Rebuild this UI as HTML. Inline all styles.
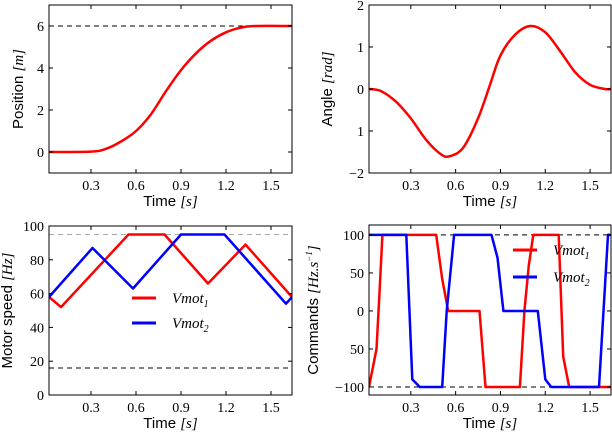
<!DOCTYPE html>
<html><head><meta charset="utf-8"><style>
body{margin:0;background:#fff}
svg{display:block;font-family:"Liberation Serif",serif}
.tk{font-size:14px;fill:#000}
.lab{font-family:"Liberation Sans",sans-serif;font-size:15px}
.it{font-family:"Liberation Serif",serif;font-style:italic}
</style></head><body>
<svg id="fig" width="612" height="432" xmlns="http://www.w3.org/2000/svg"></svg>
<script>
const timeTicks=[0.3,0.6,0.9,1.2,1.5];
const posT=[0.02,0.3,0.4,0.5,0.6,0.7,0.8,0.9,1.0,1.1,1.2,1.3,1.4,1.64];
const posV=[0,0.02,0.15,0.5,1.0,1.8,2.9,3.9,4.7,5.3,5.7,5.92,6.0,6.0];
const angT=[0.02,0.1,0.2,0.3,0.4,0.5,0.56,0.65,0.75,0.83,0.9,1.0,1.1,1.2,1.3,1.4,1.5,1.6,1.64];
const angV=[0,-0.05,-0.3,-0.7,-1.2,-1.55,-1.6,-1.4,-0.7,0.1,0.8,1.3,1.5,1.35,0.9,0.4,0.1,0,0];
const spd1T=[0.02,0.10,0.55,0.79,1.08,1.33,1.64];
const spd1V=[58,52,95,95,66,89,58];
const spd2T=[0.02,0.31,0.58,0.90,1.19,1.60,1.64];
const spd2V=[58,87,63,95,95,54,58];
const cmd1T=[0.02,0.07,0.09,0.11,0.47,0.51,0.55,0.76,0.80,1.03,1.06,1.09,1.12,1.29,1.32,1.36,1.64];
const cmd1V=[-100,-50,24,100,100,42,0,0,-100,-100,0,60,100,100,-60,-100,-100];
const cmd2T=[0.02,0.27,0.31,0.36,0.51,0.54,0.59,0.84,0.88,0.92,1.15,1.20,1.24,1.56,1.62,1.64];
const cmd2V=[100,100,-90,-100,-100,0,100,100,70,0,0,-90,-100,-100,100,100];

const NS="http://www.w3.org/2000/svg";
const fig=document.getElementById('fig');
function mk(tag,attrs,parent){const e=document.createElementNS(NS,tag);for(const k in attrs)e.setAttribute(k,attrs[k]);(parent||fig).appendChild(e);return e;}
function smoothPath(P){
  let d='M'+P[0][0].toFixed(1)+','+P[0][1].toFixed(1);
  for(let i=0;i<P.length-1;i++){
    const p0=P[Math.max(0,i-1)],p1=P[i],p2=P[i+1],p3=P[Math.min(P.length-1,i+2)];
    const c1=[p1[0]+(p2[0]-p0[0])/6,p1[1]+(p2[1]-p0[1])/6];
    const c2=[p2[0]-(p3[0]-p1[0])/6,p2[1]-(p3[1]-p1[1])/6];
    d+=` C${c1[0].toFixed(1)},${c1[1].toFixed(1)} ${c2[0].toFixed(1)},${c2[1].toFixed(1)} ${p2[0].toFixed(1)},${p2[1].toFixed(1)}`;
  }
  return d;
}
let clipId=0;
function panel(p){
  const g=mk('g',{});
  
  
  const sx=t=>p.x0+(t-0.02)/(1.64-0.02)*(p.x1-p.x0);
  const sy=v=>p.y1-(v-p.ymin)/(p.ymax-p.ymin)*(p.y1-p.y0);
  const cid='c'+(clipId++);
  const cp=mk('clipPath',{id:cid},g);mk('rect',{x:p.x0,y:p.y0,width:p.x1-p.x0,height:p.y1-p.y0},cp);
  const pg=mk('g',{'clip-path':'url(#'+cid+')'},g);
  (p.dashes||[]).forEach(d=>{const l=mk('line',{x1:p.x0,x2:p.x1,y1:sy(d.v),y2:sy(d.v),stroke:d.c,'stroke-width':1,'stroke-dasharray':'5,4'},pg);
    
    });
  p.series.forEach(s=>{
    const P=s.t.map((t,i)=>[sx(t),sy(s.v[i])]);
    let el;
    if(s.smooth){el=mk('path',{d:smoothPath(P),fill:'none',stroke:s.c,'stroke-width':2.5},pg);}
    else{el=mk('polyline',{points:P.map(q=>q[0].toFixed(1)+','+q[1].toFixed(1)).join(' '),fill:'none',stroke:s.c,'stroke-width':2.5,'stroke-linejoin':'round'},pg);}
    
    });
  const fr=mk('rect',{x:p.x0,y:p.y0,width:p.x1-p.x0,height:p.y1-p.y0,fill:'none',stroke:'#000','stroke-width':1},g);
  
  
  timeTicks.forEach(t=>{const x=sx(t);
    mk('line',{x1:x,x2:x,y1:p.y1,y2:p.y1-4,stroke:'#000'},g);mk('line',{x1:x,x2:x,y1:p.y0,y2:p.y0+4,stroke:'#000'},g);
    const tx=mk('text',{x:x,y:p.y1+17,'text-anchor':'middle',class:'tk'},g);tx.textContent=t.toFixed(1);
    
    });
  p.yt.forEach((v,i)=>{const y=sy(v);
    mk('line',{x1:p.x0,x2:p.x0+4,y1:y,y2:y,stroke:'#000'},g);mk('line',{x1:p.x1,x2:p.x1-4,y1:y,y2:y,stroke:'#000'},g);
    const tx=mk('text',{x:p.x0-5,y:y+5,'text-anchor':'end',class:'tk'},g);tx.textContent=p.ytl[i];
    
    });
  const xl=mk('text',{x:(p.x0+p.x1)/2,y:p.y1+33,'text-anchor':'middle',class:'lab'},g);
  xl.innerHTML='Time <tspan class="it">[s]</tspan>';
  
  
  const yl=mk('text',{x:0,y:0,'text-anchor':'middle',class:'lab',transform:`translate(${p.ylx},${(p.y0+p.y1)/2}) rotate(-90)`},g);
  yl.innerHTML=p.ylab;
  
  
  (p.legend||[]).forEach(L=>{const y=L.y;
    const ln=mk('line',{x1:L.x,x2:L.x+24,y1:y,y2:y,stroke:L.c,'stroke-width':3},g);
    
    
    const tx=mk('text',{x:L.x+40,y:y+5,class:'it','font-size':'15'},g);
    tx.innerHTML='Vmot<tspan font-size="10" dy="4">'+L.sub+'</tspan>';
    
    });
}
panel({name:'position-panel',x0:49,x1:292,y0:5,y1:173,ymin:-1,ymax:7,yt:[0,2,4,6],ytl:['0','2','4','6'],ylx:23,
  ylab:'Position <tspan class="it">[m]</tspan>',dashes:[{v:6,c:'#000'}],
  series:[{t:posT,v:posV,c:'#f00',name:'position-line',smooth:true}]});
panel({name:'angle-panel',x0:369,x1:611,y0:5,y1:173,ymin:-2,ymax:2,yt:[-2,-1,0,1,2],ytl:['\u22122','1','0','1','2'],ylx:332,
  ylab:'Angle <tspan class="it">[rad]</tspan>',
  series:[{t:angT,v:angV,c:'#f00',name:'angle-line',smooth:true}]});
panel({name:'motor-speed-panel',x0:49,x1:292,y0:226,y1:395,ymin:0,ymax:100,yt:[0,20,40,60,80,100],ytl:['0','20','40','60','80','100'],ylx:12,
  ylab:'Motor speed <tspan class="it">[Hz]</tspan>',dashes:[{v:95,c:'#aaa'},{v:16,c:'#000'}],
  series:[{t:spd1T,v:spd1V,c:'#f00',name:'vmot1-speed-line'},{t:spd2T,v:spd2V,c:'#00f',name:'vmot2-speed-line'}],
  legend:[{x:132,y:298,c:'#f00',sub:'1'},{x:132,y:323,c:'#00f',sub:'2'}]});
panel({name:'commands-panel',x0:369,x1:611,y0:225,y1:395,ymin:-110.5,ymax:113,yt:[-100,-50,0,50,100],ytl:['\u2212100','50','0','50','100'],ylx:318,
  ylab:'Commands <tspan class="it">[Hz.s<tspan font-size="9" dy="-6">\u22121</tspan><tspan dy="6">]</tspan></tspan>',dashes:[{v:100,c:'#000'},{v:-100,c:'#000'}],
  series:[{t:cmd1T,v:cmd1V,c:'#f00',name:'vmot1-command-line'},{t:cmd2T,v:cmd2V,c:'#00f',name:'vmot2-command-line'}],
  legend:[{x:513,y:250,c:'#f00',sub:'1'},{x:513,y:277,c:'#00f',sub:'2'}]});
</script>
</body></html>
